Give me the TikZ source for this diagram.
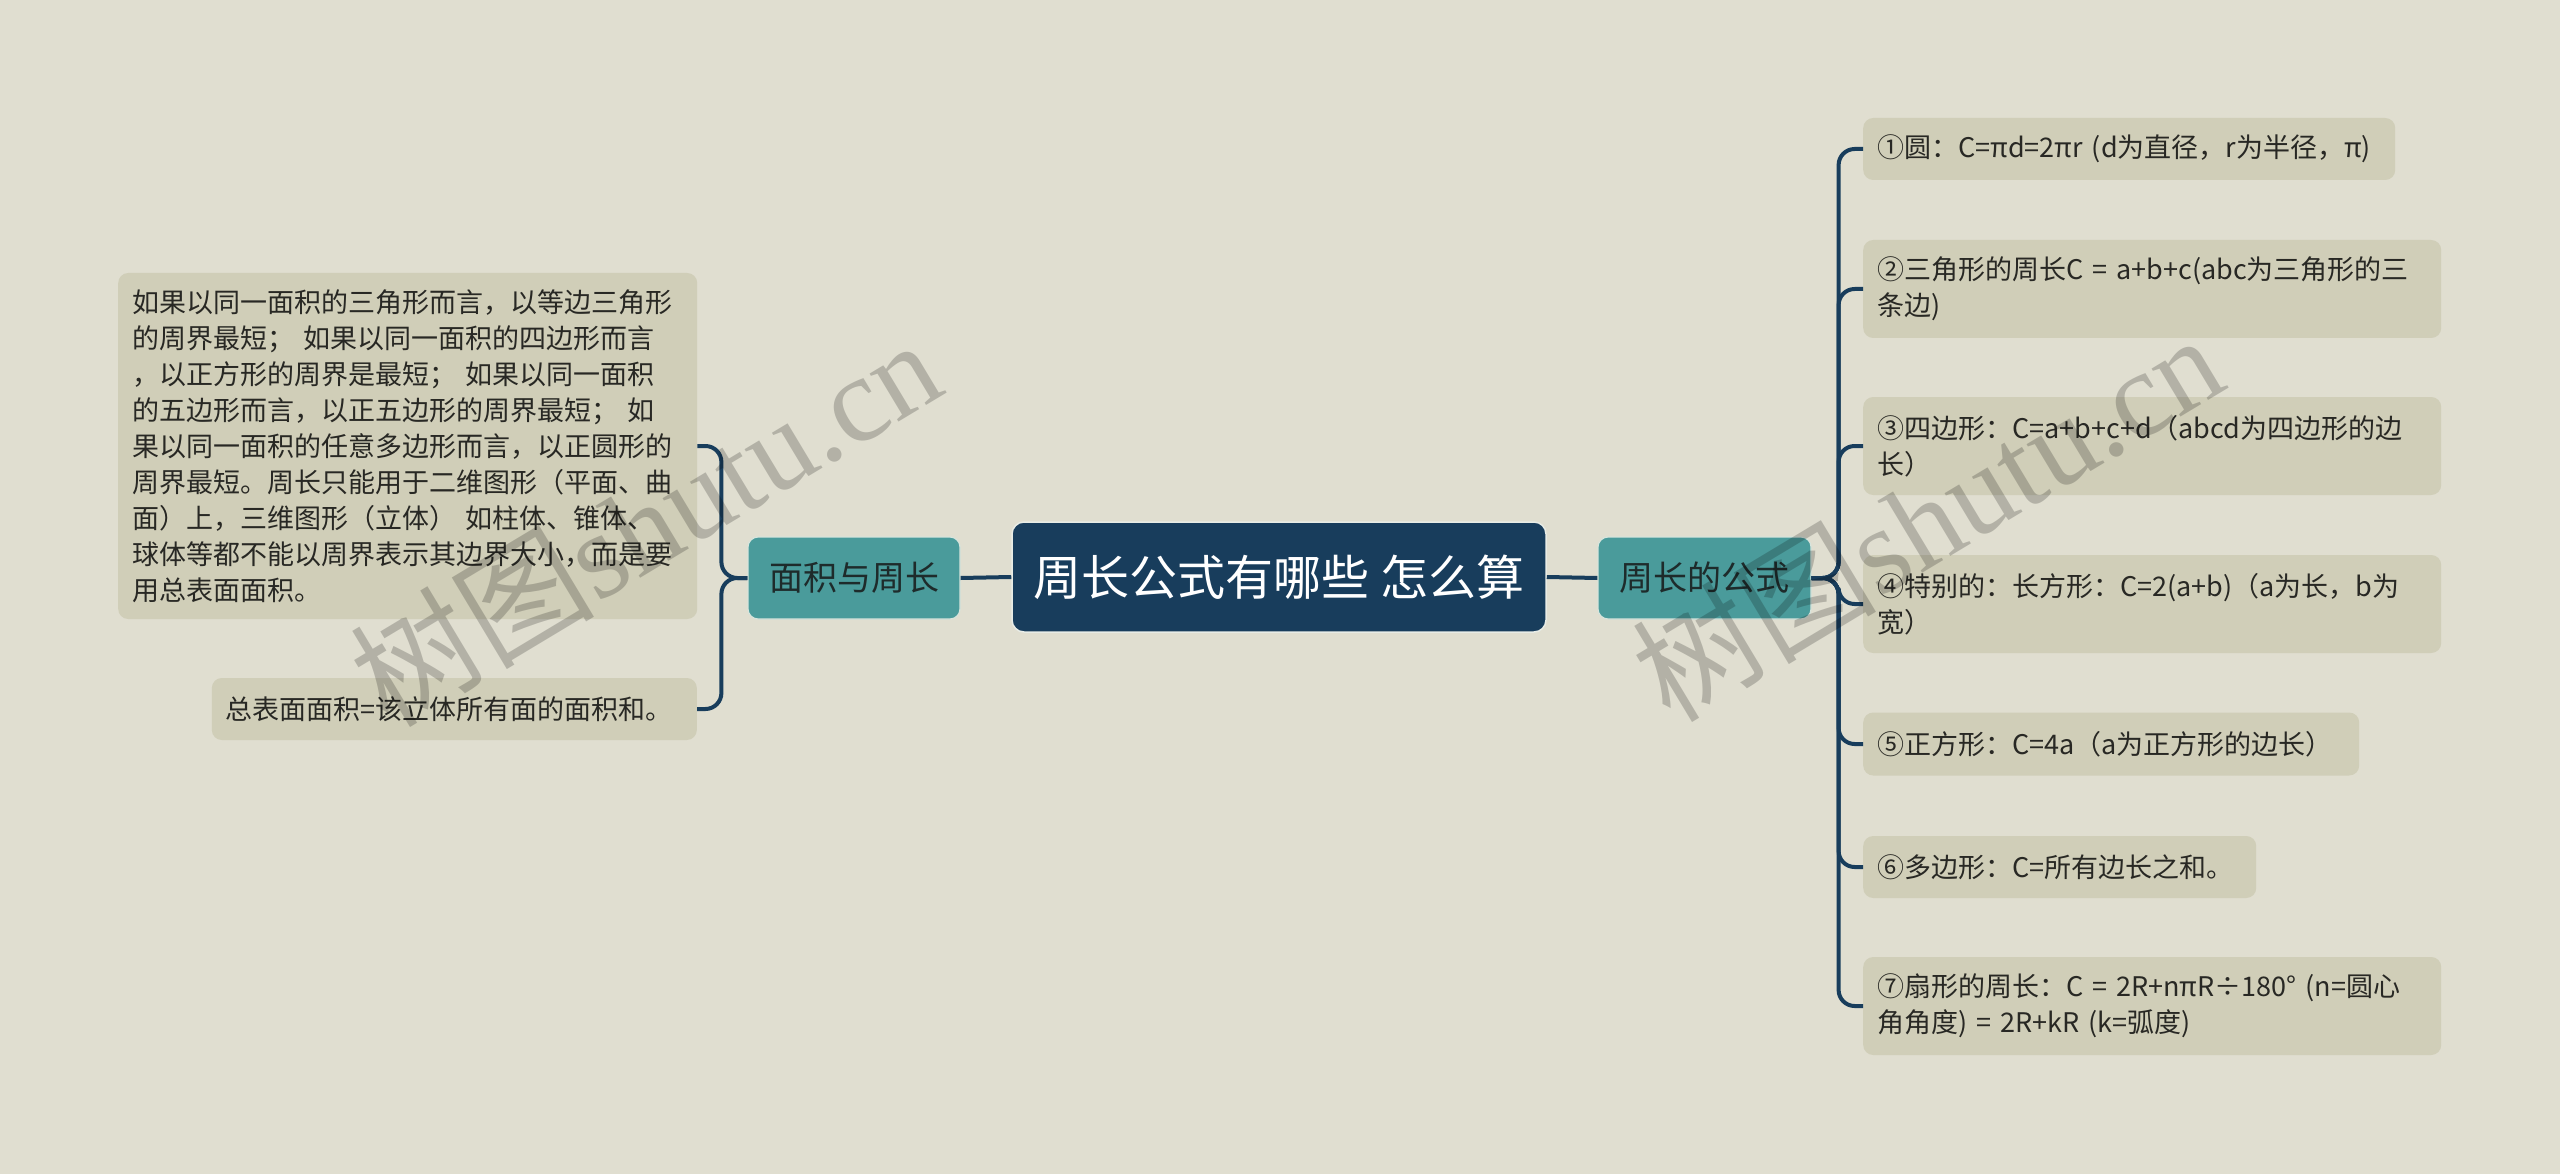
\documentclass[tikz,border=0pt]{standalone}
\usepackage{fontspec}
\newfontfamily\cjk{Noto Sans CJK SC}
\newfontfamily\wmserif{Liberation Serif}
\definecolor{bgc}{RGB}{224,222,208}
\definecolor{leafc}{RGB}{208,206,184}
\definecolor{tealc}{RGB}{74,155,155}
\definecolor{navy}{RGB}{24,61,92}
\definecolor{txt}{RGB}{40,40,36}
\definecolor{subtxt}{RGB}{30,43,43}
\tikzset{
  rootbox/.style={fill=navy, draw={rgb,255:red,232;green,236;blue,230}, line width=1.5pt, rounded corners=12pt,
    text=white, font=\cjk\fontsize{48}{58}\selectfont, inner sep=0pt},
  subbox/.style={fill=tealc, draw={rgb,255:red,215;green,228;blue,220}, line width=1.2pt, rounded corners=10pt,
    text=subtxt, font=\cjk\fontsize{34}{40}\selectfont, inner sep=0pt},
  leafbox/.style={fill=leafc, rounded corners=10pt, text=txt, align=left,
    font=\cjk\fontsize{27}{36}\selectfont, inner xsep=14pt, inner ysep=0pt},
  conn/.style={draw=navy, line width=4pt, rounded corners=16pt},
  wm/.style={text=black, text opacity=0.2, font=\fontsize{122}{130}\selectfont, inner sep=0pt}
}
\begin{document}
\begin{tikzpicture}[x=1pt,y=-1pt]
\fill[bgc] (0,0) rectangle (2560,1174);
\useasboundingbox (0,0) rectangle (2560,1174);

% central and main nodes
\node[rootbox, minimum width=534, minimum height=110] (root) at (1279,577) {周长公式有哪些 怎么算};
\node[subbox, minimum width=212, minimum height=82] (L) at (854,578) {面积与周长};
\node[subbox, minimum width=213, minimum height=82] (R) at (1704.5,578) {周长的公式};

% left leaves
\node[leafbox, anchor=west, minimum width=579, minimum height=346, text width=551] (l1) at (118,446)
 {如果以同一面积的三角形而言，以等边三角形\\的周界最短； 如果以同一面积的四边形而言\\，以正方形的周界是最短； 如果以同一面积\\的五边形而言，以正五边形的周界最短； 如\\果以同一面积的任意多边形而言，以正圆形的\\周界最短。周长只能用于二维图形（平面、曲\\面）上，三维图形（立体） 如柱体、锥体、\\球体等都不能以周界表示其边界大小，而是要\\用总表面面积。};
\node[leafbox, anchor=east, minimum width=485, minimum height=62, text width=457] (l2) at (697,709)
 {总表面面积=该立体所有面的面积和。};

% right leaves
\node[leafbox, anchor=west, minimum width=532, minimum height=62, text width=504] (r1) at (1863,149)
 {①圆：C=πd=2πr (d为直径，r为半径，π)};
\node[leafbox, anchor=west, minimum width=578, minimum height=98, text width=550] (r2) at (1863,289)
 {②三角形的周长C = a+b+c(abc为三角形的三\\条边)};
\node[leafbox, anchor=west, minimum width=578, minimum height=98, text width=550] (r3) at (1863,446)
 {③四边形：C=a+b+c+d（abcd为四边形的边\\长）};
\node[leafbox, anchor=west, minimum width=578, minimum height=98, text width=550] (r4) at (1863,604)
 {④特别的：长方形：C=2(a+b)（a为长，b为\\宽）};
\node[leafbox, anchor=west, minimum width=496, minimum height=63, text width=468] (r5) at (1863,744)
 {⑤正方形：C=4a（a为正方形的边长）};
\node[leafbox, anchor=west, minimum width=393, minimum height=62, text width=365] (r6) at (1863,867)
 {⑥多边形：C=所有边长之和。};
\node[leafbox, anchor=west, minimum width=578, minimum height=98, text width=550] (r7) at (1863,1006)
 {⑦扇形的周长：C = 2R+nπR÷180° (n=圆心\\角角度) = 2R+kR (k=弧度)};

% connectors
\draw[conn] (root.west) -- (L.east);
\draw[conn] (root.east) -- (R.west);
\draw[conn] (L.west) -- ++(-26,0) |- (l1.east);
\draw[conn] (L.west) -- ++(-26,0) |- (l2.east);
\foreach \n in {r1,r2,r3,r4,r5,r6,r7}
  \draw[conn] (R.east) -- ++(27,0) |- (\n.west);

% watermarks
\node[wm, rotate=31] (wm1) at (645,521) {\cjk 树图\wmserif shutu.cn};
\node[wm, rotate=31] (wm2) at (1927,516) {\cjk 树图\wmserif shutu.cn};
\end{tikzpicture}
\end{document}
